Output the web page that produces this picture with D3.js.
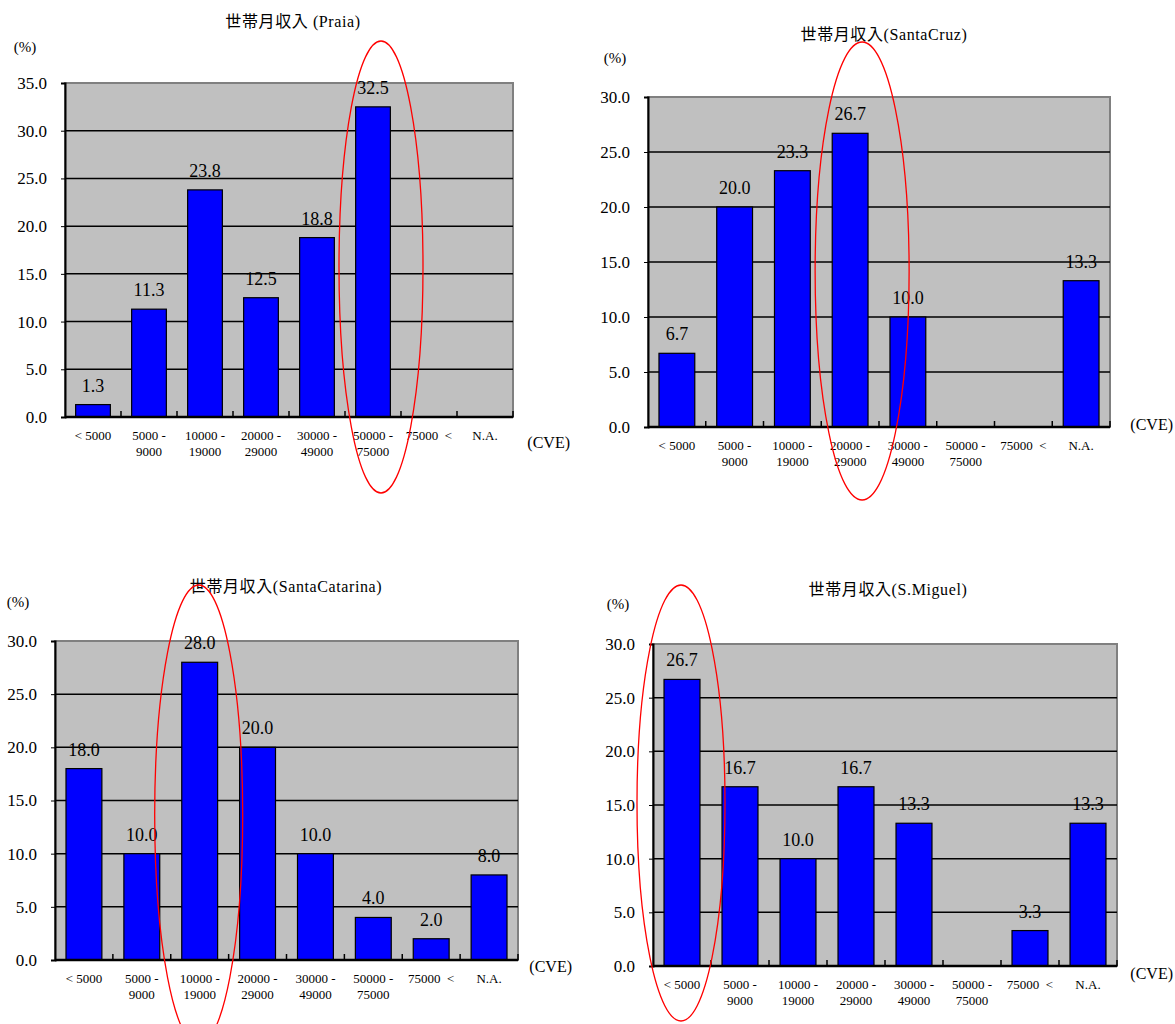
<!DOCTYPE html>
<html>
<head>
<meta charset="utf-8">
<script src="https://cdn.jsdelivr.net/npm/d3@7"></script>
<style>
  html, body { margin: 0; padding: 0; background: #fff; }
  svg { display: block; }
  text { font-family: "Liberation Serif", "Noto Sans CJK JP", serif; fill: #000; }
</style>
</head>
<body>
<svg id="chart" width="1175" height="1024"></svg>
<script>
// Income bands (CVE), two-line labels under each bar
const catTop    = ["< 5000", "5000 -", "10000 -", "20000 -", "30000 -", "50000 -", "75000  <", "N.A."];
const catBottom = ["", "9000", "19000", "29000", "49000", "75000", "", ""];
const categories = catTop.map((t, i) => t + "|" + catBottom[i]);

// Share of households (%) per band; null = no bar
const praia         = [1.3, 11.3, 23.8, 12.5, 18.8, 32.5, null, null];
const santaCruz     = [6.7, 20.0, 23.3, 26.7, 10.0, null, null, 13.3];
const santaCatarina = [18.0, 10.0, 28.0, 20.0, 10.0, 4.0, 2.0, 8.0];
const sMiguel       = [26.7, 16.7, 10.0, 16.7, 13.3, null, 3.3, 13.3];

// Titles and y-axis tick values
const titles = ["世帯月収入 (Praia)", "世帯月収入(SantaCruz)", "世帯月収入(SantaCatarina)", "世帯月収入(S.Miguel)"];
const ticks35 = [0, 5, 10, 15, 20, 25, 30, 35];
const ticks30 = [0, 5, 10, 15, 20, 25, 30];

// Highlighted band in each panel
const highlight = [5, 3, 2, 0];

// Panel geometry
const panels = [
  { values: praia, ticks: ticks35, title: titles[0], hi: highlight[0],
    left: 65, right: 513, top: 83, bottom: 417, titleX: 293, titleY: 27, pctX: 25, pctY: 52,
    cveX: 570, cveY: 448, ell: { dx: 8, cy: 267, rx: 42, ry: 226 } },
  { values: santaCruz, ticks: ticks30, title: titles[1], hi: highlight[1],
    left: 648, right: 1110, top: 97, bottom: 427, titleX: 884, titleY: 40, pctX: 615, pctY: 63,
    cveX: 1173, cveY: 430, ell: { dx: 12, cy: 271, rx: 47, ry: 229 } },
  { values: santaCatarina, ticks: ticks30, title: titles[2], hi: highlight[2],
    left: 55, right: 518, top: 641, bottom: 960, titleX: 286, titleY: 592, pctX: 18, pctY: 607,
    cveX: 572, cveY: 972, ell: { dx: -1, cy: 815, rx: 44, ry: 230 } },
  { values: sMiguel, ticks: ticks30, title: titles[3], hi: highlight[3],
    left: 653, right: 1117, top: 644, bottom: 966, titleX: 888, titleY: 595, pctX: 618, pctY: 609,
    cveX: 1173, cveY: 979, ell: { dx: -1, cy: 803, rx: 44, ry: 218 } }
];

const svg = d3.select("#chart");
svg.append("rect").attr("width", 1175).attr("height", 1024).attr("fill", "#fff");

const fmt = d3.format(".1f");

panels.forEach(p => {
  const g = svg.append("g");
  const yMax = p.ticks[p.ticks.length - 1];

  const x = d3.scaleBand().domain(categories).range([p.left, p.right])
    .paddingInner(0.38).paddingOuter(0.19);
  const y = d3.scaleLinear().domain([0, yMax]).range([p.bottom, p.top]);
  const step = x.step();

  // plot background
  g.append("rect")
    .attr("x", p.left).attr("y", p.top)
    .attr("width", p.right - p.left).attr("height", p.bottom - p.top)
    .attr("fill", "#c0c0c0").attr("stroke", "#808080").attr("stroke-width", 2);

  // horizontal gridlines
  g.selectAll("line.grid").data(p.ticks.filter(t => t > 0 && t < yMax)).join("line")
    .attr("class", "grid")
    .attr("x1", p.left).attr("x2", p.right)
    .attr("y1", d => y(d)).attr("y2", d => y(d))
    .attr("stroke", "#000").attr("stroke-width", 1.5);

  // y axis
  const yAxis = d3.axisLeft(y).tickValues(p.ticks).tickFormat(fmt).tickSize(4).tickPadding(14);
  const ya = g.append("g").attr("transform", `translate(${p.left},0)`).call(yAxis);
  ya.attr("font-family", null);
  ya.select(".domain").attr("stroke", "#000").attr("stroke-width", 2);
  ya.selectAll(".tick line").attr("stroke", "#000");
  ya.selectAll(".tick text").attr("font-size", 17);

  // bars
  const rows = p.values.map((v, i) => ({ c: categories[i], v })).filter(d => d.v !== null);
  g.selectAll("rect.bar").data(rows).join("rect")
    .attr("class", "bar")
    .attr("x", d => x(d.c)).attr("width", x.bandwidth())
    .attr("y", d => y(d.v)).attr("height", d => y(0) - y(d.v))
    .attr("fill", "#0000ff").attr("stroke", "#000").attr("stroke-width", 1.2);

  // value labels
  g.selectAll("text.val").data(rows).join("text")
    .attr("class", "val")
    .attr("x", d => x(d.c) + x.bandwidth() / 2)
    .attr("y", d => y(d.v) - 13)
    .attr("text-anchor", "middle").attr("font-size", 18)
    .text(d => fmt(d.v));

  // x baseline with inward ticks at band boundaries
  g.append("line")
    .attr("x1", p.left).attr("x2", p.right).attr("y1", p.bottom).attr("y2", p.bottom)
    .attr("stroke", "#000").attr("stroke-width", 2.5);
  g.selectAll("line.xt").data(categories.slice(1).concat([null])).join("line")
    .attr("class", "xt")
    .attr("x1", d => d === null ? p.right : x(d) - step * 0.19)
    .attr("x2", d => d === null ? p.right : x(d) - step * 0.19)
    .attr("y1", p.bottom).attr("y2", p.bottom - 6)
    .attr("stroke", "#000").attr("stroke-width", 1.5);

  // category labels
  const cl = g.selectAll("text.cat").data(categories).join("text")
    .attr("class", "cat")
    .attr("text-anchor", "middle").attr("font-size", 13)
    .attr("x", d => x(d) + x.bandwidth() / 2);
  cl.append("tspan").attr("x", d => x(d) + x.bandwidth() / 2)
    .attr("y", p.bottom + 23).attr("xml:space", "preserve")
    .text(d => d.split("|")[0]);
  cl.append("tspan").attr("x", d => x(d) + x.bandwidth() / 2)
    .attr("y", p.bottom + 39)
    .text(d => d.split("|")[1]);

  // title, unit labels
  g.append("text").attr("x", p.titleX).attr("y", p.titleY)
    .attr("text-anchor", "middle").attr("font-size", 16).attr("letter-spacing", 0.6).text(p.title);
  g.append("text").attr("x", p.pctX).attr("y", p.pctY)
    .attr("text-anchor", "middle").attr("font-size", 15).text("(%)");
  g.append("text").attr("x", p.cveX).attr("y", p.cveY)
    .attr("text-anchor", "end").attr("font-size", 16).text("(CVE)");

  // highlight ellipse around the emphasised band
  g.append("ellipse")
    .attr("cx", x(categories[p.hi]) + x.bandwidth() / 2 + p.ell.dx)
    .attr("cy", p.ell.cy).attr("rx", p.ell.rx).attr("ry", p.ell.ry)
    .attr("fill", "none").attr("stroke", "#ff0000").attr("stroke-width", 1.3);
});
</script>
</body>
</html>
